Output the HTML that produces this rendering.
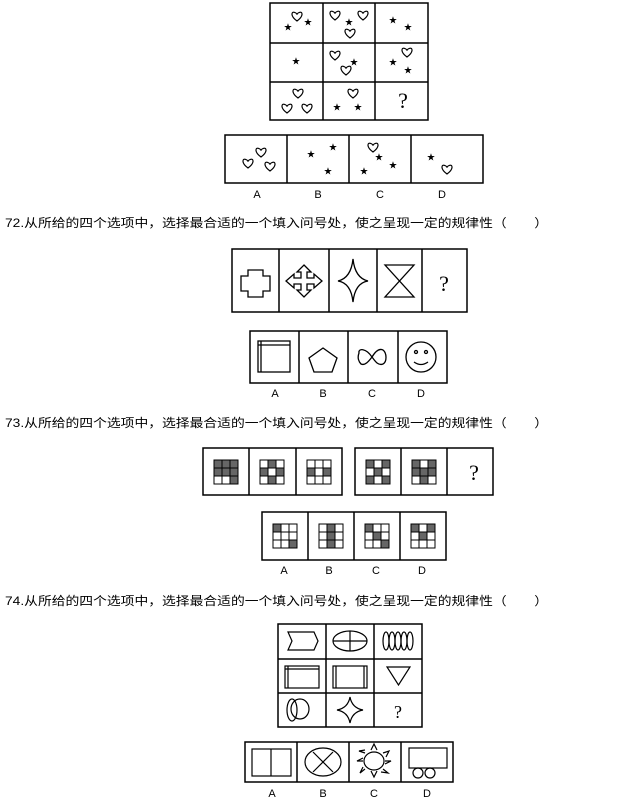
<!DOCTYPE html>
<html><head><meta charset="utf-8"><style>
html,body{margin:0;padding:0;background:#fff;}
svg{display:block;}
.t{font-family:"Liberation Sans","Noto Sans CJK SC",sans-serif;font-size:12px;fill:#000;}
.l{font-family:"Liberation Sans",sans-serif;font-size:11px;fill:#000;text-anchor:middle;}
.s{font-family:"DejaVu Sans",sans-serif;font-size:10px;text-anchor:middle;dominant-baseline:central;}
.q{font-family:"Liberation Serif",serif;font-size:22px;text-anchor:middle;}
</style></head><body>
<svg width="631" height="807" viewBox="0 0 631 807" xmlns="http://www.w3.org/2000/svg">
<defs>
<path id="ht" d="M0,4 C-7,-1 -5.5,-5.5 -2.7,-4.7 C-1.2,-4.3 0,-3.2 0,-2.3 C0,-3.2 1.2,-4.3 2.7,-4.7 C5.5,-5.5 7,-1 0,4 Z" fill="none" stroke="#000" stroke-width="1.2"/>
<g id="g3" fill="none" stroke="#000" stroke-width="1">
<rect x="0" y="0" width="24" height="24"/>
<line x1="8" y1="0" x2="8" y2="24"/><line x1="16" y1="0" x2="16" y2="24"/>
<line x1="0" y1="8" x2="24" y2="8"/><line x1="0" y1="16" x2="24" y2="16"/>
</g>
</defs>
<g fill="none" stroke="#000" stroke-width="1.5">
<rect x="270" y="3" width="158" height="117"/>
<line x1="323" y1="3" x2="323" y2="120"/><line x1="375" y1="3" x2="375" y2="120"/>
<line x1="270" y1="43" x2="428" y2="43"/><line x1="270" y1="82" x2="428" y2="82"/>
<rect x="225" y="135" width="258" height="48"/>
<line x1="287" y1="135" x2="287" y2="183"/><line x1="349" y1="135" x2="349" y2="183"/><line x1="411" y1="135" x2="411" y2="183"/>
<rect x="232" y="249" width="235" height="63"/>
<line x1="279" y1="249" x2="279" y2="312"/><line x1="329" y1="249" x2="329" y2="312"/><line x1="377" y1="249" x2="377" y2="312"/><line x1="422" y1="249" x2="422" y2="312"/>
<rect x="250" y="331" width="197" height="52"/>
<line x1="299" y1="331" x2="299" y2="383"/><line x1="348" y1="331" x2="348" y2="383"/><line x1="398" y1="331" x2="398" y2="383"/>
<rect x="203" y="448" width="139" height="47"/>
<line x1="249" y1="448" x2="249" y2="495"/><line x1="296" y1="448" x2="296" y2="495"/>
<rect x="355" y="448" width="138" height="47"/>
<line x1="401" y1="448" x2="401" y2="495"/><line x1="447" y1="448" x2="447" y2="495"/>
<rect x="262" y="512" width="184" height="48"/>
<line x1="308" y1="512" x2="308" y2="560"/><line x1="354" y1="512" x2="354" y2="560"/><line x1="400" y1="512" x2="400" y2="560"/>
<rect x="278" y="624" width="144" height="103"/>
<line x1="326" y1="624" x2="326" y2="727"/><line x1="374" y1="624" x2="374" y2="727"/>
<line x1="278" y1="659" x2="422" y2="659"/><line x1="278" y1="693" x2="422" y2="693"/>
<rect x="245" y="742" width="208" height="40"/>
<line x1="297" y1="742" x2="297" y2="782"/><line x1="349" y1="742" x2="349" y2="782"/><line x1="401" y1="742" x2="401" y2="782"/>
</g>

<use href="#ht" x="297" y="17"/><use href="#ht" x="335" y="16"/><use href="#ht" x="363" y="16"/><use href="#ht" x="350" y="34"/>
<use href="#ht" x="335" y="56"/><use href="#ht" x="346" y="71"/><use href="#ht" x="407" y="53"/>
<use href="#ht" x="298" y="94"/><use href="#ht" x="287" y="109"/><use href="#ht" x="307" y="109"/><use href="#ht" x="353" y="94"/>
<use href="#ht" x="261" y="153"/><use href="#ht" x="248" y="164"/><use href="#ht" x="270" y="167"/>
<use href="#ht" x="373" y="148"/><use href="#ht" x="447" y="170"/>
<g class="s">
<text x="288" y="28">★</text><text x="308" y="23">★</text><text x="349" y="23">★</text>
<text x="393" y="21">★</text><text x="408" y="28">★</text><text x="296" y="62">★</text>
<text x="354" y="63">★</text><text x="393" y="63">★</text><text x="408" y="71">★</text>
<text x="337" y="108">★</text><text x="358" y="108">★</text>
<text x="311" y="155">★</text><text x="333" y="148">★</text><text x="328" y="172">★</text>
<text x="379" y="158">★</text><text x="393" y="166">★</text><text x="364" y="172">★</text>
<text x="431" y="158">★</text>
</g>
<text class="q" x="403" y="108">?</text>
<g class="l"><text x="257" y="198">A</text><text x="318" y="198">B</text><text x="380" y="198">C</text><text x="442" y="198">D</text></g>

<text class="t" x="5" y="227" textLength="543" lengthAdjust="spacingAndGlyphs">72.从所给的四个选项中，选择最合适的一个填入问号处，使之呈现一定的规律性（　　）</text>

<g fill="none" stroke="#000" stroke-width="1.3">
<path d="M248,270 H263 V276 H270 V291 H263 V297 H248 V291 H241 V276 H248 Z"/>
<path d="M304,265 L311,272 H307 V278 H314 V274 L322,281 L314,288 V284 H307 V290 H311 L304,297 L297,290 H301 V284 H294 V288 L286,281 L294,274 V278 H301 V272 H297 Z"/>
<path d="M353,259 Q355,278 368,281 Q355,283 353,302 Q351,283 338,281 Q351,278 353,259 Z"/>
<path d="M385,265 H414 L385,297 H414 Z"/>
<rect x="258" y="341" width="32" height="31"/>
<line x1="261" y1="341" x2="261" y2="372"/><line x1="258" y1="345" x2="290" y2="345"/>
<path d="M323,348 L337,358 L332,372 L314,372 L309,358 Z"/>
<path d="M372,357 C366,348 358,348 359,353 C357,358 359,362 361,364 C365,366 369,361 372,357 C375,352 379,348 383,350 C387,353 387,362 383,364 C378,366 375,361 372,357 Z"/>
<circle cx="421" cy="357" r="15"/>
<circle cx="416" cy="352" r="1.5"/><circle cx="426" cy="352" r="1.5"/>
<path d="M414,362 Q421,367 428,362"/>
</g>
<text class="q" x="444" y="291">?</text>
<g class="l"><text x="275" y="397">A</text><text x="323" y="397">B</text><text x="372" y="397">C</text><text x="421" y="397">D</text></g>

<text class="t" x="5" y="427" textLength="543" lengthAdjust="spacingAndGlyphs">73.从所给的四个选项中，选择最合适的一个填入问号处，使之呈现一定的规律性（　　）</text>

<g fill="#666">
<g transform="translate(214,460)"><rect x="0" y="0" width="24" height="16"/><rect x="16" y="16" width="8" height="8"/><use href="#g3"/></g>
<g transform="translate(260,460)"><rect x="8" y="0" width="8" height="8"/><rect x="0" y="8" width="8" height="8"/><rect x="16" y="8" width="8" height="8"/><rect x="8" y="16" width="8" height="8"/><use href="#g3"/></g>
<g transform="translate(307,460)"><rect x="0" y="8" width="8" height="8"/><rect x="16" y="8" width="8" height="8"/><use href="#g3"/></g>
<g transform="translate(366,460)"><rect x="0" y="0" width="8" height="8"/><rect x="16" y="0" width="8" height="8"/><rect x="8" y="8" width="8" height="8"/><rect x="0" y="16" width="8" height="8"/><rect x="16" y="16" width="8" height="8"/><use href="#g3"/></g>
<g transform="translate(412,460)"><rect x="0" y="0" width="8" height="8"/><rect x="16" y="0" width="8" height="8"/><rect x="0" y="8" width="24" height="8"/><rect x="8" y="16" width="8" height="8"/><use href="#g3"/></g>
<g transform="translate(273,524)"><rect x="0" y="0" width="8" height="8"/><rect x="16" y="16" width="8" height="8"/><use href="#g3"/></g>
<g transform="translate(319,524)"><rect x="8" y="0" width="8" height="24"/><use href="#g3"/></g>
<g transform="translate(365,524)"><rect x="0" y="0" width="8" height="8"/><rect x="8" y="8" width="8" height="8"/><rect x="16" y="16" width="8" height="8"/><use href="#g3"/></g>
<g transform="translate(411,524)"><rect x="0" y="0" width="8" height="8"/><rect x="16" y="0" width="8" height="8"/><rect x="8" y="8" width="8" height="8"/><use href="#g3"/></g>
</g>
<text class="q" x="474" y="480">?</text>
<g class="l"><text x="284" y="574">A</text><text x="329" y="574">B</text><text x="376" y="574">C</text><text x="422" y="574">D</text></g>

<text class="t" x="5" y="605" textLength="543" lengthAdjust="spacingAndGlyphs">74.从所给的四个选项中，选择最合适的一个填入问号处，使之呈现一定的规律性（　　）</text>

<g fill="none" stroke="#000" stroke-width="1.2">
<path d="M288,632 H314 L318,641 L314,650 H288 L292,641 Z"/>
<ellipse cx="350" cy="641" rx="17" ry="10"/><line x1="333" y1="641" x2="367" y2="641"/><line x1="350" y1="631" x2="350" y2="651"/>
<ellipse cx="386" cy="641" rx="3" ry="9"/><ellipse cx="392" cy="641" rx="3" ry="9"/><ellipse cx="398" cy="641" rx="3" ry="9"/><ellipse cx="404" cy="641" rx="3" ry="9"/><ellipse cx="410" cy="641" rx="3" ry="9"/>
<rect x="285" y="666" width="34" height="22"/><line x1="288" y1="666" x2="288" y2="688"/><line x1="285" y1="669" x2="319" y2="669"/>
<rect x="333" y="666" width="34" height="22"/><line x1="336" y1="666" x2="336" y2="688"/><line x1="364" y1="666" x2="364" y2="688"/>
<path d="M387,667 H410 L398.5,685 Z"/>
<ellipse cx="292" cy="710" rx="5" ry="11"/><ellipse cx="300" cy="709" rx="9" ry="10"/>
<path d="M350,697 Q352,708 363,710 Q352,712 350,723 Q348,712 337,710 Q348,708 350,697 Z"/>
<rect x="252" y="749" width="39" height="27"/><line x1="271" y1="749" x2="271" y2="776"/>
<ellipse cx="323" cy="762" rx="18" ry="14"/><line x1="313" y1="752" x2="333" y2="772"/><line x1="333" y1="752" x2="313" y2="772"/>
<ellipse cx="374" cy="761" rx="10" ry="9"/>
<path d="M371,750 L374,744 L377,750 M383,753 L389,751 L386,757 M385,761 L391,761 L385,764 M383,769 L388,773 L381,772 M377,771 L374,777 L371,771 M365,769 L360,773 L363,767 M363,761 L357,761 L363,758 M365,753 L359,751 L365,750"/>
<rect x="409" y="748" width="38" height="20"/>
<circle cx="418" cy="773" r="5"/><circle cx="430" cy="773" r="5"/>
</g>
<text class="q" x="398" y="718" style="font-size:18px">?</text>
<g class="l"><text x="272" y="797">A</text><text x="323" y="797">B</text><text x="374" y="797">C</text><text x="427" y="797">D</text></g>
</svg>
</body></html>
